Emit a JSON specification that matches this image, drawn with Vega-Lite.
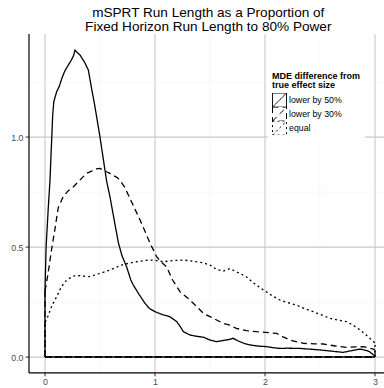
{
  "$schema": "https://vega.github.io/schema/vega-lite/v6.json",
  "width": 355.5,
  "height": 338.8,
  "autosize": {"type": "none"},
  "padding": {"left": 28.5, "top": 33.6, "right": 0, "bottom": 15.6},
  "background": "white",
  "config": {
    "view": {"stroke": null},
    "font": "Liberation Sans"
  },
  "title": {
    "text": ["mSPRT Run Length as a Proportion of\u00a0", "\u00a0Fixed Horizon Run Length to 80% Power"],
    "fontSize": 13.6,
    "fontWeight": "normal",
    "font": "Liberation Sans",
    "color": "black",
    "anchor": "middle",
    "dx": 2,
    "lineHeight": 14,
    "offset": 0
  },
  "datasets": {
    "curves": [
      {"g": "lower by 50%", "x": 0, "y": 0.3},
      {"g": "lower by 50%", "x": 0.01, "y": 0.5},
      {"g": "lower by 50%", "x": 0.03, "y": 0.68},
      {"g": "lower by 50%", "x": 0.045, "y": 0.8},
      {"g": "lower by 50%", "x": 0.07, "y": 1.1},
      {"g": "lower by 50%", "x": 0.08, "y": 1.16},
      {"g": "lower by 50%", "x": 0.106, "y": 1.206},
      {"g": "lower by 50%", "x": 0.13, "y": 1.23},
      {"g": "lower by 50%", "x": 0.152, "y": 1.265},
      {"g": "lower by 50%", "x": 0.18, "y": 1.3},
      {"g": "lower by 50%", "x": 0.212, "y": 1.327},
      {"g": "lower by 50%", "x": 0.24, "y": 1.35},
      {"g": "lower by 50%", "x": 0.26, "y": 1.37},
      {"g": "lower by 50%", "x": 0.273, "y": 1.395},
      {"g": "lower by 50%", "x": 0.29, "y": 1.385},
      {"g": "lower by 50%", "x": 0.318, "y": 1.373},
      {"g": "lower by 50%", "x": 0.34, "y": 1.355},
      {"g": "lower by 50%", "x": 0.36, "y": 1.34},
      {"g": "lower by 50%", "x": 0.379, "y": 1.32},
      {"g": "lower by 50%", "x": 0.394, "y": 1.305},
      {"g": "lower by 50%", "x": 0.42, "y": 1.23},
      {"g": "lower by 50%", "x": 0.45, "y": 1.15},
      {"g": "lower by 50%", "x": 0.47, "y": 1.09},
      {"g": "lower by 50%", "x": 0.5, "y": 1.0},
      {"g": "lower by 50%", "x": 0.53, "y": 0.9},
      {"g": "lower by 50%", "x": 0.56, "y": 0.8},
      {"g": "lower by 50%", "x": 0.59, "y": 0.73},
      {"g": "lower by 50%", "x": 0.63, "y": 0.62},
      {"g": "lower by 50%", "x": 0.667, "y": 0.52},
      {"g": "lower by 50%", "x": 0.7, "y": 0.46},
      {"g": "lower by 50%", "x": 0.742, "y": 0.41},
      {"g": "lower by 50%", "x": 0.78, "y": 0.35},
      {"g": "lower by 50%", "x": 0.803, "y": 0.327},
      {"g": "lower by 50%", "x": 0.848, "y": 0.29},
      {"g": "lower by 50%", "x": 0.909, "y": 0.244},
      {"g": "lower by 50%", "x": 0.95, "y": 0.22},
      {"g": "lower by 50%", "x": 1.0, "y": 0.206},
      {"g": "lower by 50%", "x": 1.04, "y": 0.198},
      {"g": "lower by 50%", "x": 1.076, "y": 0.191},
      {"g": "lower by 50%", "x": 1.136, "y": 0.183},
      {"g": "lower by 50%", "x": 1.197, "y": 0.161},
      {"g": "lower by 50%", "x": 1.23, "y": 0.138},
      {"g": "lower by 50%", "x": 1.258, "y": 0.115},
      {"g": "lower by 50%", "x": 1.318, "y": 0.1},
      {"g": "lower by 50%", "x": 1.38, "y": 0.094},
      {"g": "lower by 50%", "x": 1.44, "y": 0.09},
      {"g": "lower by 50%", "x": 1.5, "y": 0.077},
      {"g": "lower by 50%", "x": 1.56, "y": 0.07},
      {"g": "lower by 50%", "x": 1.62, "y": 0.075},
      {"g": "lower by 50%", "x": 1.68, "y": 0.08},
      {"g": "lower by 50%", "x": 1.71, "y": 0.085},
      {"g": "lower by 50%", "x": 1.76, "y": 0.072},
      {"g": "lower by 50%", "x": 1.81, "y": 0.062},
      {"g": "lower by 50%", "x": 1.864, "y": 0.055},
      {"g": "lower by 50%", "x": 1.93, "y": 0.05},
      {"g": "lower by 50%", "x": 2.015, "y": 0.047},
      {"g": "lower by 50%", "x": 2.08, "y": 0.042},
      {"g": "lower by 50%", "x": 2.136, "y": 0.039},
      {"g": "lower by 50%", "x": 2.2, "y": 0.04},
      {"g": "lower by 50%", "x": 2.318, "y": 0.039},
      {"g": "lower by 50%", "x": 2.4, "y": 0.036},
      {"g": "lower by 50%", "x": 2.5, "y": 0.032},
      {"g": "lower by 50%", "x": 2.6, "y": 0.027},
      {"g": "lower by 50%", "x": 2.71, "y": 0.021},
      {"g": "lower by 50%", "x": 2.78, "y": 0.028},
      {"g": "lower by 50%", "x": 2.864, "y": 0.036},
      {"g": "lower by 50%", "x": 2.92, "y": 0.03},
      {"g": "lower by 50%", "x": 2.95, "y": 0.024},
      {"g": "lower by 50%", "x": 2.98, "y": 0.012},
      {"g": "lower by 50%", "x": 3.0, "y": 0.003},
      {"g": "lower by 30%", "x": 0, "y": 0.3},
      {"g": "lower by 30%", "x": 0.015, "y": 0.34},
      {"g": "lower by 30%", "x": 0.04, "y": 0.42},
      {"g": "lower by 30%", "x": 0.06, "y": 0.49},
      {"g": "lower by 30%", "x": 0.09, "y": 0.58},
      {"g": "lower by 30%", "x": 0.121, "y": 0.68},
      {"g": "lower by 30%", "x": 0.167, "y": 0.73},
      {"g": "lower by 30%", "x": 0.21, "y": 0.755},
      {"g": "lower by 30%", "x": 0.258, "y": 0.774},
      {"g": "lower by 30%", "x": 0.3, "y": 0.795},
      {"g": "lower by 30%", "x": 0.348, "y": 0.82},
      {"g": "lower by 30%", "x": 0.379, "y": 0.835},
      {"g": "lower by 30%", "x": 0.424, "y": 0.845},
      {"g": "lower by 30%", "x": 0.46, "y": 0.855},
      {"g": "lower by 30%", "x": 0.5, "y": 0.857},
      {"g": "lower by 30%", "x": 0.53, "y": 0.85},
      {"g": "lower by 30%", "x": 0.56, "y": 0.842},
      {"g": "lower by 30%", "x": 0.59, "y": 0.835},
      {"g": "lower by 30%", "x": 0.62, "y": 0.825},
      {"g": "lower by 30%", "x": 0.65, "y": 0.818},
      {"g": "lower by 30%", "x": 0.68, "y": 0.805},
      {"g": "lower by 30%", "x": 0.727, "y": 0.77},
      {"g": "lower by 30%", "x": 0.773, "y": 0.72},
      {"g": "lower by 30%", "x": 0.82, "y": 0.67},
      {"g": "lower by 30%", "x": 0.864, "y": 0.623},
      {"g": "lower by 30%", "x": 0.91, "y": 0.57},
      {"g": "lower by 30%", "x": 0.955, "y": 0.517},
      {"g": "lower by 30%", "x": 1.015, "y": 0.456},
      {"g": "lower by 30%", "x": 1.06, "y": 0.43},
      {"g": "lower by 30%", "x": 1.106, "y": 0.41},
      {"g": "lower by 30%", "x": 1.16, "y": 0.35},
      {"g": "lower by 30%", "x": 1.227, "y": 0.297},
      {"g": "lower by 30%", "x": 1.318, "y": 0.259},
      {"g": "lower by 30%", "x": 1.38, "y": 0.229},
      {"g": "lower by 30%", "x": 1.44, "y": 0.198},
      {"g": "lower by 30%", "x": 1.53, "y": 0.176},
      {"g": "lower by 30%", "x": 1.62, "y": 0.153},
      {"g": "lower by 30%", "x": 1.68, "y": 0.145},
      {"g": "lower by 30%", "x": 1.74, "y": 0.13},
      {"g": "lower by 30%", "x": 1.83, "y": 0.12},
      {"g": "lower by 30%", "x": 1.925, "y": 0.115},
      {"g": "lower by 30%", "x": 2.0, "y": 0.112},
      {"g": "lower by 30%", "x": 2.106, "y": 0.107},
      {"g": "lower by 30%", "x": 2.17, "y": 0.09},
      {"g": "lower by 30%", "x": 2.227, "y": 0.077},
      {"g": "lower by 30%", "x": 2.35, "y": 0.062},
      {"g": "lower by 30%", "x": 2.45, "y": 0.06},
      {"g": "lower by 30%", "x": 2.53, "y": 0.059},
      {"g": "lower by 30%", "x": 2.64, "y": 0.05},
      {"g": "lower by 30%", "x": 2.74, "y": 0.044},
      {"g": "lower by 30%", "x": 2.82, "y": 0.046},
      {"g": "lower by 30%", "x": 2.894, "y": 0.047},
      {"g": "lower by 30%", "x": 2.95, "y": 0.04},
      {"g": "lower by 30%", "x": 3.0, "y": 0.034},
      {"g": "equal", "x": 0, "y": 0.16},
      {"g": "equal", "x": 0.015, "y": 0.17},
      {"g": "equal", "x": 0.06, "y": 0.23},
      {"g": "equal", "x": 0.106, "y": 0.274},
      {"g": "equal", "x": 0.15, "y": 0.32},
      {"g": "equal", "x": 0.197, "y": 0.35},
      {"g": "equal", "x": 0.258, "y": 0.368},
      {"g": "equal", "x": 0.32, "y": 0.37},
      {"g": "equal", "x": 0.394, "y": 0.365},
      {"g": "equal", "x": 0.45, "y": 0.372},
      {"g": "equal", "x": 0.5, "y": 0.38},
      {"g": "equal", "x": 0.59, "y": 0.395},
      {"g": "equal", "x": 0.697, "y": 0.418},
      {"g": "equal", "x": 0.77, "y": 0.427},
      {"g": "equal", "x": 0.833, "y": 0.433},
      {"g": "equal", "x": 0.9, "y": 0.438},
      {"g": "equal", "x": 0.955, "y": 0.441},
      {"g": "equal", "x": 1.02, "y": 0.438},
      {"g": "equal", "x": 1.076, "y": 0.433},
      {"g": "equal", "x": 1.16, "y": 0.438},
      {"g": "equal", "x": 1.258, "y": 0.441},
      {"g": "equal", "x": 1.35, "y": 0.435},
      {"g": "equal", "x": 1.44, "y": 0.428},
      {"g": "equal", "x": 1.5, "y": 0.418},
      {"g": "equal", "x": 1.56, "y": 0.398},
      {"g": "equal", "x": 1.62, "y": 0.39},
      {"g": "equal", "x": 1.68, "y": 0.402},
      {"g": "equal", "x": 1.75, "y": 0.385},
      {"g": "equal", "x": 1.83, "y": 0.365},
      {"g": "equal", "x": 1.9, "y": 0.335},
      {"g": "equal", "x": 1.985, "y": 0.305},
      {"g": "equal", "x": 2.06, "y": 0.28},
      {"g": "equal", "x": 2.136, "y": 0.259},
      {"g": "equal", "x": 2.2, "y": 0.248},
      {"g": "equal", "x": 2.288, "y": 0.236},
      {"g": "equal", "x": 2.36, "y": 0.22},
      {"g": "equal", "x": 2.44, "y": 0.206},
      {"g": "equal", "x": 2.52, "y": 0.19},
      {"g": "equal", "x": 2.59, "y": 0.176},
      {"g": "equal", "x": 2.66, "y": 0.168},
      {"g": "equal", "x": 2.74, "y": 0.161},
      {"g": "equal", "x": 2.8, "y": 0.145},
      {"g": "equal", "x": 2.864, "y": 0.123},
      {"g": "equal", "x": 2.92, "y": 0.1},
      {"g": "equal", "x": 2.97, "y": 0.077},
      {"g": "equal", "x": 3.0, "y": 0.064}
    ],
    "edges": [
      {"g": "equal", "x": 0, "x2": 0, "y": 0, "y2": 0.16},
      {"g": "equal", "x": 3, "x2": 3, "y": 0, "y2": 0.064},
      {"g": "equal", "x": 0, "x2": 3, "y": 0, "y2": 0},
      {"g": "lower by 30%", "x": 0, "x2": 0, "y": 0, "y2": 0.3},
      {"g": "lower by 30%", "x": 3, "x2": 3, "y": 0, "y2": 0.034},
      {"g": "lower by 30%", "x": 0, "x2": 3, "y": 0, "y2": 0},
      {"g": "lower by 50%", "x": 0, "x2": 0, "y": 0, "y2": 0.3},
      {"g": "lower by 50%", "x": 3, "x2": 3, "y": 0, "y2": 0.003},
      {"g": "lower by 50%", "x": 0, "x2": 3, "y": 0, "y2": 0}
    ]
  },
  "encoding": {
    "x": {
      "field": "x", "type": "quantitative",
      "scale": {"domain": [-0.15, 3.082], "nice": false, "zero": false},
      "axis": {
        "title": null,
        "values": [0, 0.5, 1, 1.5, 2, 2.5, 3],
        "labelExpr": "datum.value % 1 == 0 ? format(datum.value, 'd') : ''",
        "grid": true,
        "gridColor": {"condition": {"test": "datum.value % 1 != 0", "value": "#f0f0f0"}, "value": "#c8c8c8"},
        "gridWidth": {"condition": {"test": "datum.value % 1 != 0", "value": 0.6}, "value": 1.1},
        "tickOpacity": {"condition": {"test": "datum.value % 1 != 0", "value": 0}, "value": 1},
        "tickSize": 3.5,
        "tickColor": "#333333",
        "tickWidth": 1,
        "domainColor": "black",
        "domainWidth": 1.2,
        "labelFontSize": 8.8,
        "labelColor": "#4d4d4d",
        "labelFont": "Liberation Sans",
        "labelPadding": 1.5,
        "labelFlush": false,
        "labelOverlap": false
      }
    },
    "y": {
      "field": "y", "type": "quantitative",
      "scale": {"domain": [-0.07, 1.47], "nice": false, "zero": false},
      "axis": {
        "title": null,
        "values": [0, 0.25, 0.5, 0.75, 1, 1.25],
        "labelExpr": "(datum.value * 4) % 2 == 0 ? format(datum.value, '.1f') : ''",
        "grid": true,
        "gridColor": {"condition": {"test": "(datum.value * 4) % 2 != 0", "value": "#f0f0f0"}, "value": "#c8c8c8"},
        "gridWidth": {"condition": {"test": "(datum.value * 4) % 2 != 0", "value": 0.6}, "value": 1.1},
        "tickOpacity": {"condition": {"test": "(datum.value * 4) % 2 != 0", "value": 0}, "value": 1},
        "tickSize": 3.5,
        "tickColor": "#333333",
        "tickWidth": 1,
        "domainColor": "black",
        "domainWidth": 1.2,
        "labelFontSize": 8.8,
        "labelColor": "#4d4d4d",
        "labelFont": "Liberation Sans",
        "labelPadding": 2,
        "labelFlush": false,
        "labelOverlap": false
      }
    },
    "strokeDash": {
      "field": "g", "type": "nominal",
      "scale": {"domain": ["lower by 50%", "lower by 30%", "equal"], "range": [[1, 0], [6, 4], [2, 3]]},
      "legend": {
        "title": ["MDE difference from", "\u00a0true effect size"],
        "orient": "none",
        "legendX": 239.5,
        "legendY": 34,
        "fillColor": "white",
        "padding": 4,
        "titleFont": "Liberation Sans",
        "titleFontSize": 9,
        "titleFontWeight": "bold",
        "titleColor": "black",
        "titleLineHeight": 9.5,
        "titlePadding": 3,
        "labelFont": "Liberation Sans",
        "labelFontSize": 8.8,
        "labelColor": "black",
        "labelOffset": 2,
        "symbolType": "M-1,-1H1V1H-1ZM-1,1L1,-1",
        "symbolSize": 196,
        "symbolStrokeColor": "black",
        "symbolFillColor": "transparent",
        "symbolStrokeWidth": 1,
        "clipHeight": 14,
        "rowPadding": 0
      }
    }
  },
  "layer": [
    {
      "data": {"name": "edges"},
      "mark": {"type": "rule", "color": "black", "strokeWidth": 1.3},
      "encoding": {
        "x2": {"field": "x2"},
        "y2": {"field": "y2"}
      }
    },
    {
      "data": {"name": "curves"},
      "mark": {"type": "line", "color": "black", "strokeWidth": 1.3, "interpolate": "linear"},
      "encoding": {}
    }
  ]
}
